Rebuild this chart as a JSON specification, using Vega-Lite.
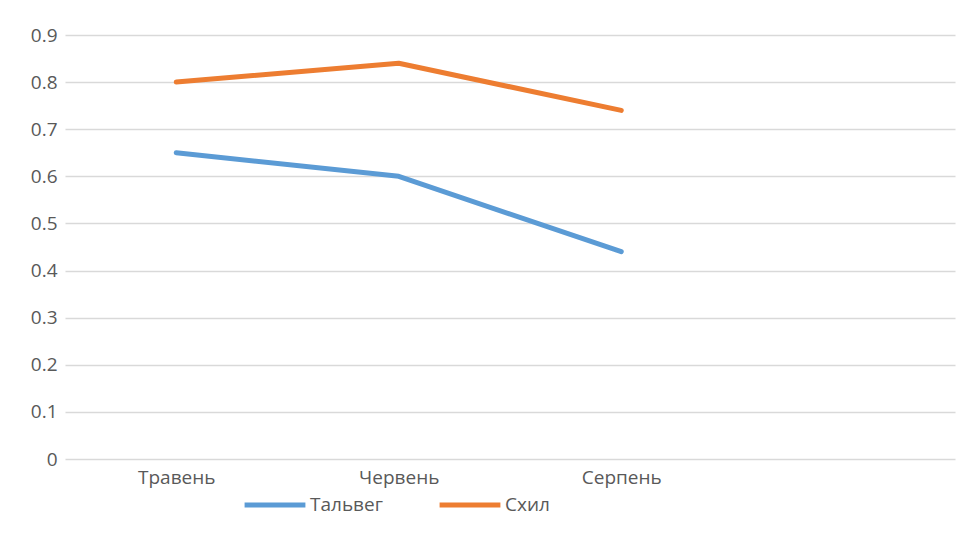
{
  "$schema": "https://vega.github.io/schema/vega-lite/v6.json",
  "width": 890,
  "height": 424,
  "autosize": {"type": "none"},
  "padding": {"left": 65, "top": 35, "right": 4, "bottom": 88},
  "background": "#ffffff",
  "config": {
    "view": {"stroke": null},
    "font": "Open Sans",
    "axis": {
      "labelFont": "Open Sans",
      "labelFontSize": 19,
      "labelColor": "#595959",
      "gridColor": "#d9d9d9",
      "gridWidth": 1.5,
      "ticks": false,
      "title": null
    }
  },
  "data": {
    "values": [
      {"month": "Травень", "series": "Тальвег", "value": 0.65},
      {"month": "Червень", "series": "Тальвег", "value": 0.60},
      {"month": "Серпень", "series": "Тальвег", "value": 0.44},
      {"month": "Травень", "series": "Схил", "value": 0.80},
      {"month": "Червень", "series": "Схил", "value": 0.84},
      {"month": "Серпень", "series": "Схил", "value": 0.74}
    ]
  },
  "mark": {"type": "line", "strokeWidth": 5, "strokeCap": "round", "strokeJoin": "round"},
  "encoding": {
    "x": {
      "field": "month",
      "type": "ordinal",
      "sort": null,
      "scale": {"type": "point", "domain": ["Травень", "Червень", "Серпень", " "], "padding": 0.5},
      "axis": {"labelAngle": 0, "labelPadding": 9, "domain": false, "grid": false}
    },
    "y": {
      "field": "value",
      "type": "quantitative",
      "scale": {"domain": [0, 0.9], "nice": false, "zero": true},
      "axis": {
        "values": [0, 0.1, 0.2, 0.3, 0.4, 0.5, 0.6, 0.7, 0.8, 0.9],
        "format": "~g",
        "domain": false,
        "grid": true,
        "labelPadding": 8
      }
    },
    "color": {
      "field": "series",
      "type": "nominal",
      "scale": {"domain": ["Тальвег", "Схил"], "range": ["#5b9bd5", "#ed7d31"]},
      "legend": {
        "title": null,
        "orient": "none",
        "direction": "horizontal",
        "legendX": 177,
        "legendY": 437,
        "symbolType": "stroke",
        "symbolSize": 3700,
        "symbolStrokeWidth": 5,
        "labelFont": "Open Sans",
        "labelFontSize": 19,
        "labelColor": "#595959",
        "labelOffset": 2,
        "columnPadding": 46
      }
    }
  }
}
